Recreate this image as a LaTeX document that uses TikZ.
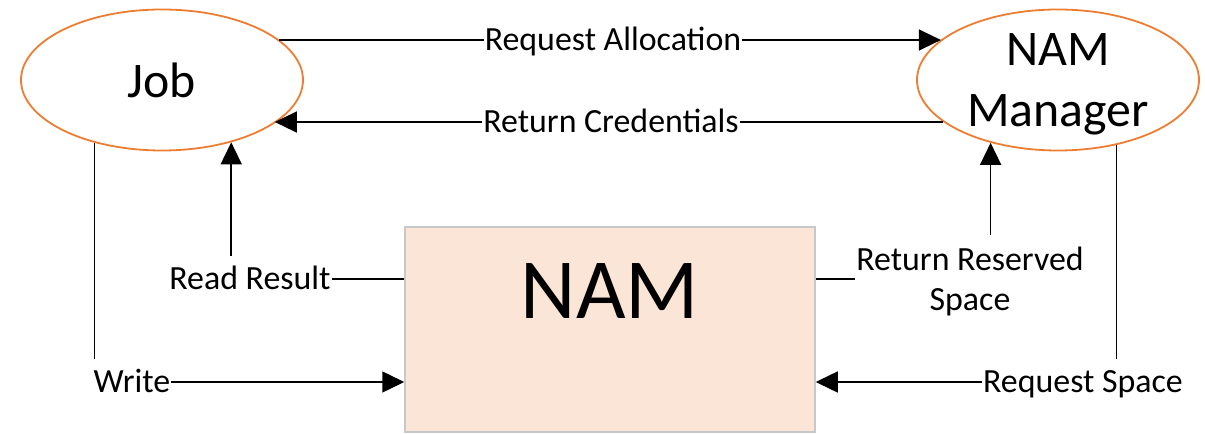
\documentclass[tikz,border=0pt]{standalone}
\usepackage{fontspec}
\setmainfont{Carlito}
\usetikzlibrary{shapes.geometric,arrows.meta}
\definecolor{orng}{HTML}{ED7D31}
\definecolor{peach}{HTML}{FBE5D6}
\definecolor{boxgray}{HTML}{C8C8C8}
\begin{document}
\begin{tikzpicture}[x=1bp,y=-1bp,
  proc/.style={ellipse, draw=orng, line width=1.8bp, minimum width=282bp, minimum height=141bp, inner sep=0pt, font=\fontsize{50}{62}\selectfont, align=center, text depth=0pt},
  lblbase/.style={font=\fontsize{34}{40}\selectfont, inner xsep=1bp, inner ysep=12bp},
  lbl/.style={lblbase, text height=22bp, text depth=0pt},
  conn/.style={line width=1.5bp},
  arr/.style={conn, -{Triangle[length=22bp,width=21bp]}},
  nambox/.style={draw=boxgray, fill=peach, line width=1.5bp, minimum width=410bp, minimum height=205bp, inner sep=0pt, font=\fontsize{86}{100}\selectfont, text height=55.4bp, text depth=77.6bp}
]
\useasboundingbox (0,0) rectangle (1205,434);
\node[proc] (job) at (162,80) {Job};
\node[proc] (mgr) at (1058,80) {NAM\\Manager};
\node[nambox] (nam) at (610,329.5) {NAM};

\node[lbl] (ra) at (613,40) {Request Allocation};
\node[lbl] (rc) at (611,122) {Return Credentials};
\node[lbl] (rr) at (250,279) {Read Result};
\node[lbl] (wr) at (132,382) {Write};
\node[lblbase, align=center, text depth=0pt] (rrs) at (970,279) {Return Reserved\\Space};
\node[lbl] (rs) at (1083,382) {Request Space};

% Request Allocation
\draw[conn] (job.19 |- ra.west) -- (ra.west);
\draw[arr] (ra.east) -- (mgr.161 |- ra.east);
% Return Credentials
\draw[conn] (mgr.200.4 |- rc.east) -- (rc.east);
\draw[arr] (rc.west) -- (job.339.6 |- rc.west);
% Read Result
\draw[arr] (job.318.3 |- rr.north) -- (job.318.3);
\draw[conn] (rr.east) -- (nam.west |- rr.east);
% Write
\draw[conn] (job.223.3) -- (job.223.3 |- wr.north);
\draw[arr] (wr.east) -- (nam.west |- wr.east);
% Return Reserved Space
\draw[conn] (nam.east |- rrs.west) -- (rrs.west);
\draw[arr] (mgr.223.9 |- rrs.north) -- (mgr.223.9);
% Request Space
\draw[conn] (mgr.312.7) -- (mgr.312.7 |- rs.north);
\draw[arr] (rs.west) -- (nam.east |- rs.west);
\end{tikzpicture}
\end{document}
